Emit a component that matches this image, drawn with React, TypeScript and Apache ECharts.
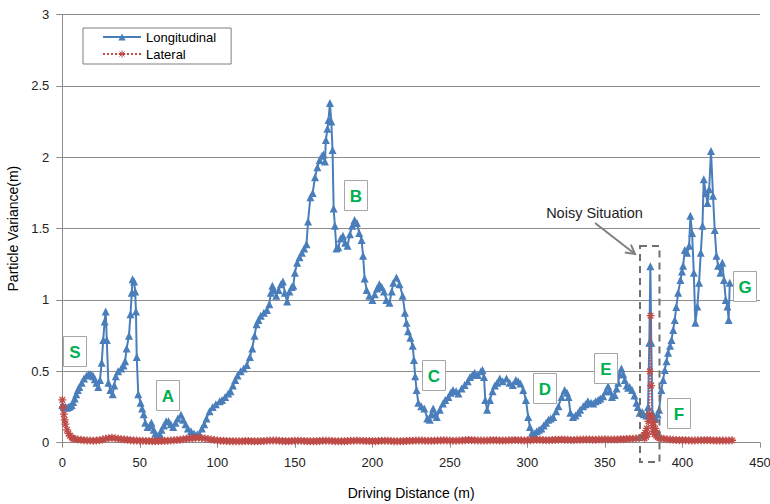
import React, { useEffect, useRef } from "react";
import * as echarts from "echarts";

// ---- Data ----
const X_MIN = 0;
const X_MAX = 450;
const X_INTERVAL = 50;
const Y_MIN = 0;
const Y_MAX = 3;
const Y_INTERVAL = 0.5;

const SERIES_NAMES = ["Longitudinal", "Lateral"];

// Longitudinal particle variance: [driving distance (m), variance (m)]
const longitudinal: [number, number][] = [
  [0, 0.265], [1, 0.25], [2, 0.25], [3, 0.245], [4, 0.25], [5, 0.255], [6, 0.265], [7, 0.285], [8, 0.31], [9, 0.34],
  [10, 0.37], [11, 0.39], [12.5, 0.42], [14, 0.45], [15.7, 0.47], [17, 0.48], [18, 0.48], [19, 0.475], [20, 0.465], [21, 0.445],
  [22, 0.42], [23.2, 0.39], [24.3, 0.44], [25.4, 0.56], [26.4, 0.72], [27.3, 0.85], [28, 0.92], [28.7, 0.72], [29.7, 0.42], [31, 0.37],
  [32.5, 0.34], [33.5, 0.4], [34.5, 0.465], [36, 0.5], [38, 0.52], [39.5, 0.54], [40.5, 0.57], [41.5, 0.66], [43, 0.75], [44, 0.9],
  [44.8, 1.05], [45.3, 1.145], [46.3, 1.13], [47, 1.06], [47.5, 0.92], [48, 0.6], [49, 0.34], [50.5, 0.28], [51.5, 0.24], [52.5, 0.2],
  [53.5, 0.14], [55, 0.11], [56.5, 0.12], [57.5, 0.14], [59, 0.09], [60, 0.065], [61, 0.05], [62, 0.04], [63, 0.06], [64, 0.09],
  [65.5, 0.12], [67, 0.15], [68.5, 0.15], [70, 0.13], [71.5, 0.11], [73, 0.14], [74.5, 0.17], [76.5, 0.195], [78, 0.16], [79.5, 0.13],
  [81, 0.1], [83, 0.08], [85, 0.065], [87, 0.06], [88.5, 0.055], [90, 0.1], [91.5, 0.13], [93, 0.17], [95, 0.22], [97, 0.25],
  [99, 0.27], [101.5, 0.29], [103, 0.3], [105, 0.32], [107, 0.345], [108.5, 0.36], [110, 0.4], [111.5, 0.44], [113, 0.47], [115, 0.5],
  [117, 0.52], [119, 0.545], [121, 0.6], [122.5, 0.66], [124, 0.75], [125.3, 0.83], [126.5, 0.86], [128, 0.89], [130, 0.91], [132, 0.93],
  [133.5, 0.97], [134.5, 1.05], [135.5, 1.1], [136.5, 1.07], [138, 1.03], [139.5, 1.07], [141, 1.11], [142.3, 1.13], [143.5, 1.05], [145, 0.99],
  [146.5, 1.06], [148, 1.09], [149, 1.1], [150, 1.19], [151.5, 1.26], [153, 1.3], [154.5, 1.33], [156, 1.36], [157.5, 1.39], [158.5, 1.55],
  [160, 1.72], [161.5, 1.75], [163, 1.86], [164.5, 1.93], [166, 1.98], [167.5, 2.01], [168.5, 2.02], [169.4, 1.97], [170, 2.12], [171, 2.2],
  [171.7, 2.26], [172.6, 2.38], [173.5, 2.25], [174.3, 2.05], [175, 1.64], [175.8, 1.52], [176.8, 1.36], [178, 1.37], [179.5, 1.43], [181, 1.45],
  [182.5, 1.4], [184, 1.38], [185.5, 1.46], [187, 1.52], [188.5, 1.56], [190, 1.54], [191.5, 1.47], [193, 1.42], [194, 1.31], [195, 1.15],
  [196.3, 1.07], [198, 1.03], [200, 1.0], [201.5, 1.04], [203, 1.08], [204.5, 1.11], [206, 1.09], [207.5, 1.06], [209, 1.0], [211, 0.98],
  [212.5, 1.06], [213.5, 1.12], [215.5, 1.157], [217.5, 1.11], [219.5, 1.03], [221, 0.91], [222, 0.84], [223, 0.78], [224.5, 0.735], [226, 0.68],
  [226.8, 0.58], [227.6, 0.465], [228.5, 0.37], [229.6, 0.28], [231.5, 0.255], [233.5, 0.24], [235.4, 0.17], [237, 0.16], [238, 0.2], [239.2, 0.24],
  [240.5, 0.2], [241.5, 0.18], [243.5, 0.23], [245.5, 0.275], [247, 0.3], [249, 0.32], [250.5, 0.35], [252, 0.37], [254, 0.36], [255.5, 0.345],
  [257.5, 0.38], [259.5, 0.405], [261.5, 0.43], [263, 0.46], [264.5, 0.475], [266, 0.49], [268, 0.475], [270, 0.5], [271, 0.51], [272, 0.46],
  [272.8, 0.3], [274, 0.23], [275.8, 0.3], [277.5, 0.36], [279, 0.4], [280.5, 0.42], [282.2, 0.45], [284, 0.43], [286.5, 0.45], [288.5, 0.42],
  [290.5, 0.405], [292.5, 0.44], [294, 0.43], [295.5, 0.415], [297.3, 0.37], [299, 0.3], [300.5, 0.18], [301.6, 0.11], [303, 0.07], [304.5, 0.065],
  [306, 0.08], [307.5, 0.09], [309, 0.1], [310.5, 0.12], [312, 0.14], [313.5, 0.16], [315, 0.17], [316.6, 0.18], [318.5, 0.22], [320, 0.255],
  [322, 0.32], [324, 0.37], [325.5, 0.35], [326.5, 0.32], [327.7, 0.21], [329.4, 0.18], [331, 0.19], [332.7, 0.21], [334, 0.23], [336, 0.255],
  [337.5, 0.27], [339, 0.29], [341, 0.28], [342.5, 0.275], [344, 0.29], [345.6, 0.3], [347, 0.31], [348.8, 0.325], [350.5, 0.36], [352, 0.395],
  [353.2, 0.36], [354.5, 0.32], [356.3, 0.335], [357.5, 0.38], [358.5, 0.42], [359.5, 0.48], [360.6, 0.52], [361.8, 0.48], [362.8, 0.44], [364, 0.4],
  [365, 0.385], [366, 0.39], [367.5, 0.37], [369, 0.33], [370.3, 0.28], [371.2, 0.25], [372.4, 0.21], [374, 0.215], [375, 0.2], [376.7, 0.19],
  [377.8, 0.25], [378.6, 0.7], [379.3, 1.236], [379.9, 0.7], [380.6, 0.21], [381.8, 0.18], [382.8, 0.17], [384, 0.2], [384.9, 0.23], [386.4, 0.37],
  [387.5, 0.44], [388.6, 0.51], [389.7, 0.57], [390.7, 0.63], [392, 0.68], [392.9, 0.72], [394, 0.79], [395, 0.86], [396, 0.95], [397.2, 1.05],
  [398.7, 1.14], [399.7, 1.2], [400.4, 1.24], [401.5, 1.35], [403, 1.33], [404.3, 1.38], [405.1, 1.59], [406.2, 1.47], [407.3, 1.19], [408.3, 0.84],
  [409.6, 0.955], [410.7, 1.12], [411.8, 1.33], [412.9, 1.52], [413.7, 1.845], [415, 1.75], [416.1, 1.68], [417.2, 1.775], [418.4, 2.044], [419.7, 1.73],
  [420.8, 1.49], [421.9, 1.31], [423, 1.24], [424.5, 1.19], [425.7, 1.26], [426.8, 1.14], [427.9, 1.0], [429, 0.955], [429.8, 0.86], [430.5, 1.12],
];

// Lateral particle variance
const lateralHead: [number, number][] = [
  [0, 0.3], [0.5, 0.25], [1, 0.2], [1.5, 0.16], [2, 0.13], [3, 0.09], [4, 0.065], [5, 0.048], [6, 0.036], [7, 0.03], [8, 0.026],
];
// values every 2 m from 10 m to 374 m
const LAT_MID_START = 10;
const LAT_STEP = 2;
const lateralMid: number[] = [
  0.022, 0.02, 0.018, 0.016, 0.015, 0.014, 0.015, 0.018, 0.022, 0.027,
  0.032, 0.034, 0.031, 0.028, 0.025, 0.022, 0.02, 0.018, 0.016, 0.015,
  0.014, 0.013, 0.012, 0.012, 0.011, 0.011, 0.012, 0.012, 0.013, 0.014,
  0.015, 0.017, 0.019, 0.021, 0.024, 0.027, 0.03, 0.032, 0.034, 0.035,
  0.033, 0.03, 0.026, 0.022, 0.019, 0.016, 0.014, 0.013, 0.012, 0.011,
  0.011, 0.01, 0.01, 0.011, 0.012, 0.012, 0.011, 0.01, 0.01, 0.011,
  0.012, 0.014, 0.015, 0.016, 0.015, 0.013, 0.012, 0.011, 0.011, 0.012,
  0.013, 0.014, 0.013, 0.012, 0.011, 0.01, 0.01, 0.011, 0.012, 0.013,
  0.014, 0.013, 0.012, 0.011, 0.01, 0.01, 0.011, 0.012, 0.013, 0.014,
  0.015, 0.014, 0.013, 0.012, 0.012, 0.011, 0.011, 0.012, 0.013, 0.014,
  0.013, 0.012, 0.011, 0.01, 0.01, 0.011, 0.012, 0.013, 0.014, 0.015,
  0.016, 0.015, 0.014, 0.013, 0.013, 0.014, 0.015, 0.016, 0.017, 0.016,
  0.015, 0.014, 0.014, 0.015, 0.016, 0.018, 0.019, 0.018, 0.017, 0.016,
  0.015, 0.015, 0.016, 0.017, 0.018, 0.017, 0.016, 0.015, 0.016, 0.017,
  0.018, 0.019, 0.018, 0.017, 0.016, 0.017, 0.018, 0.02, 0.021, 0.02,
  0.019, 0.018, 0.018, 0.019, 0.02, 0.021, 0.022, 0.021, 0.02, 0.019,
  0.019, 0.02, 0.021, 0.022, 0.023, 0.022, 0.021, 0.021, 0.022, 0.023,
  0.024, 0.023, 0.022, 0.022, 0.023, 0.024, 0.025, 0.026, 0.027, 0.028,
  0.03, 0.033, 0.04,
];
// noisy situation around 375-385 m
const lateralNoise: [number, number][] = [
  [375, 0.05], [375.5, 0.03], [376, 0.07], [376.5, 0.04], [377, 0.1], [377.5, 0.06], [378, 0.15], [378.5, 0.2],
  [379, 0.5], [379.4, 0.89], [379.8, 0.4], [380.2, 0.18], [380.6, 0.12], [381, 0.08], [381.5, 0.14], [382, 0.06],
  [382.5, 0.1], [383, 0.05], [383.5, 0.07], [384, 0.04], [385, 0.035],
];
// values every 2 m from 386 m to 432 m
const LAT_TAIL_START = 386;
const lateralTail: number[] = [
  0.03, 0.027, 0.024, 0.022, 0.02, 0.019, 0.018, 0.018, 0.017, 0.017, 0.016, 0.016,
  0.017, 0.017, 0.018, 0.018, 0.017, 0.016, 0.016, 0.015, 0.015, 0.016, 0.016, 0.017,
];

// Annotation labels
const segmentLabels = ["S", "A", "B", "C", "D", "E", "F", "G"];
const noteText = "Noisy Situation";

// ---- Styles / layout ----
const FONT = "'Liberation Sans', Arial, sans-serif";
const BLUE = "#4A7EBB";
const RED = "#BE4B48";
const GRID_COLOR = "#8C8C8C";
const ASTERISK = "path://M5 0L5 10M0 5L10 5M1.5 1.5L8.5 8.5M8.5 1.5L1.5 8.5";

// label box positions (pixels, top-left) for S..G
const labelBoxes: [number, number][] = [
  [63, 336], [156, 380], [344, 180], [422, 360], [533, 373], [594, 353], [667, 398], [733, 271],
];

export default function App() {
  const ref = useRef<HTMLDivElement>(null);

  useEffect(() => {
    if (!ref.current) return;
    const chart = echarts.init(ref.current, undefined, { renderer: "svg" });

    const lateral: [number, number][] = [
      ...lateralHead,
      ...lateralMid.map((v, i) => [LAT_MID_START + i * LAT_STEP, v] as [number, number]),
      ...lateralNoise,
      ...lateralTail.map((v, i) => [LAT_TAIL_START + i * LAT_STEP, v] as [number, number]),
    ];

    const graphics: any[] = [];
    segmentLabels.forEach((lab, i) => {
      const [bx, by] = labelBoxes[i];
      graphics.push({
        type: "rect",
        z: 100,
        shape: { x: bx + 0.5, y: by + 0.5, width: 23, height: 30 },
        style: { fill: "#fff", stroke: "#A6A6A6", lineWidth: 1 },
      });
      graphics.push({
        type: "text",
        z: 101,
        x: bx + 12,
        y: by + 16,
        style: {
          text: lab,
          fill: "#00B050",
          font: `bold 17px ${FONT}`,
          align: "center",
          verticalAlign: "middle",
        },
      });
    });

    // Noisy situation note
    graphics.push({
      type: "text",
      z: 101,
      x: 594.5,
      y: 213,
      style: {
        text: noteText,
        fill: "#222",
        font: `14.5px ${FONT}`,
        align: "center",
        verticalAlign: "middle",
      },
    });
    const ax1 = 595, ay1 = 223, ax2 = 635, ay2 = 254;
    const dx = ax2 - ax1, dy = ay2 - ay1;
    const len = Math.sqrt(dx * dx + dy * dy);
    const ux = dx / len, uy = dy / len;
    const hl = 9, hw = 5;
    graphics.push({
      type: "line",
      z: 101,
      shape: { x1: ax1, y1: ay1, x2: ax2, y2: ay2 },
      style: { stroke: "#808080", lineWidth: 2 },
    });
    graphics.push({
      type: "polyline",
      z: 101,
      shape: {
        points: [
          [ax2 - hl * ux - hw * uy, ay2 - hl * uy + hw * ux],
          [ax2, ay2],
          [ax2 - hl * ux + hw * uy, ay2 - hl * uy - hw * ux],
        ],
      },
      style: { stroke: "#808080", lineWidth: 2, fill: "none" },
    });
    graphics.push({
      type: "rect",
      z: 101,
      shape: { x: 640, y: 246, width: 19.5, height: 216 },
      style: { fill: "none", stroke: "#707070", lineWidth: 2, lineDash: [7, 5] },
    });

    chart.setOption({
      animation: false,
      textStyle: { fontFamily: FONT },
      grid: {
        left: 62.3,
        right: 10,
        top: 14.5,
        bottom: 61.3,
        containLabel: false,
        outerBoundsMode: "none",
      },
      legend: {
        orient: "vertical",
        left: 83,
        top: 28,
        data: [
          { name: SERIES_NAMES[0] },
          { name: SERIES_NAMES[1], itemStyle: { borderWidth: 1, borderColor: RED, color: RED } },
        ],
        backgroundColor: "#fff",
        borderColor: "#7F7F7F",
        borderWidth: 1,
        padding: [2, 15, 3, 19],
        itemWidth: 38,
        itemHeight: 9,
        itemGap: 3,
        textStyle: { fontSize: 13, color: "#000", lineHeight: 14, fontFamily: FONT },
      },
      xAxis: {
        type: "value",
        min: X_MIN,
        max: X_MAX,
        interval: X_INTERVAL,
        name: "Driving Distance (m)",
        nameLocation: "middle",
        nameGap: 43,
        nameTextStyle: { fontSize: 14, color: "#000" },
        axisLine: { show: true, lineStyle: { color: GRID_COLOR, width: 1 } },
        axisTick: { show: true, length: 5, lineStyle: { color: GRID_COLOR } },
        axisLabel: { fontSize: 13, color: "#222", margin: 13 },
        splitLine: { show: false },
      },
      yAxis: {
        type: "value",
        min: Y_MIN,
        max: Y_MAX,
        interval: Y_INTERVAL,
        name: "Particle Variance(m)",
        nameLocation: "middle",
        nameGap: 38,
        nameTextStyle: { fontSize: 14, color: "#000" },
        axisLine: { show: true, lineStyle: { color: GRID_COLOR, width: 1 } },
        axisTick: { show: true, length: 6, lineStyle: { color: GRID_COLOR } },
        axisLabel: { fontSize: 13, color: "#222", margin: 13 },
        splitLine: { show: true, lineStyle: { color: GRID_COLOR, width: 1 } },
      },
      series: [
        {
          name: SERIES_NAMES[0],
          type: "line",
          data: longitudinal,
          symbol: "triangle",
          symbolSize: 8,
          showAllSymbol: true,
          lineStyle: { color: BLUE, width: 2 },
          itemStyle: { color: BLUE },
          z: 2,
        },
        {
          name: SERIES_NAMES[1],
          type: "line",
          data: lateral,
          symbol: ASTERISK,
          symbolSize: 8,
          showAllSymbol: true,
          lineStyle: { color: RED, width: 1.5, type: "dotted" },
          itemStyle: { color: RED, borderColor: RED, borderWidth: 1.3 },
          z: 3,
        },
      ],
      graphic: graphics,
    });

    return () => chart.dispose();
  }, []);

  return (
    <div
      ref={ref}
      style={{ position: "fixed", left: 0, top: 0, width: 770, height: 504, background: "#fff" }}
    />
  );
}
